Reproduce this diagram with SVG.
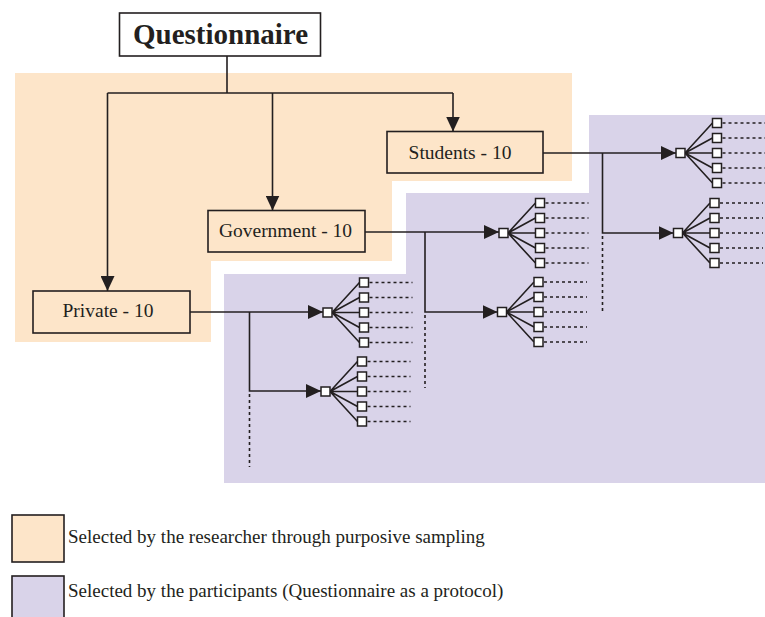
<svg xmlns="http://www.w3.org/2000/svg" xmlns:xlink="http://www.w3.org/1999/xlink" width="765" height="617" viewBox="0 0 765 617">
<style>
.ln{fill:none;stroke:#231f20;stroke-width:1.6}
.dot{fill:none;stroke:#231f20;stroke-width:1.6;stroke-dasharray:3 3}
.box{fill:#fde5c9;stroke:#231f20;stroke-width:1.6}
.sq{fill:#ffffff;stroke:#231f20;stroke-width:1.5}
.t{font-family:"Liberation Serif","Times New Roman",serif;fill:#231f20}
.lbl{font-size:19.5px;text-anchor:middle}
.leg{font-size:19px}
</style>
<defs>
<marker id="ah" markerUnits="userSpaceOnUse" markerWidth="15" markerHeight="14" refX="15" refY="7" orient="auto">
<path d="M0,0 L15,7 L0,14 z" fill="#231f20"/>
</marker>
<g id="fan">
<path class="ln" d="M4.5,0 L32,-30 M4.5,0 L32,-15 M4.5,0 L32,0 M4.5,0 L32,15 M4.5,0 L32,30"/>
<rect class="sq" x="-4.5" y="-4.5" width="9" height="9"/>
<rect class="sq" x="32" y="-34.5" width="9" height="9"/>
<rect class="sq" x="32" y="-19.5" width="9" height="9"/>
<rect class="sq" x="32" y="-4.5" width="9" height="9"/>
<rect class="sq" x="32" y="10.5" width="9" height="9"/>
<rect class="sq" x="32" y="25.5" width="9" height="9"/>
<path class="dot" d="M42,-30 H85 M42,-15 H85 M42,0 H85 M42,15 H85 M42,30 H85"/>
</g>
</defs>
<rect width="765" height="617" fill="#ffffff"/>
<g id="regions">
<polygon points="15,73 572,73 572,181 392,181 392,261 211,261 211,342 15,342" fill="#fde5c9"/>
<polygon points="224,274 406,274 406,193 589,193 589,115 765,115 765,483 224,483" fill="#d9d3e9"/>
</g>
<g id="connectors">
<path class="ln" d="M227,56 V93 M107.5,93 H453"/>
<path class="ln" d="M107.5,93 V291" marker-end="url(#ah)"/>
<path class="ln" d="M272.5,93 V210.5" marker-end="url(#ah)"/>
<path class="ln" d="M453,93 V131.5" marker-end="url(#ah)"/>
<path class="ln" d="M543,153 H676" marker-end="url(#ah)"/>
<path class="ln" d="M602.5,153 V233 H673.5" marker-end="url(#ah)"/>
<path class="dot" d="M602.5,236 V311"/>
<path class="ln" d="M365,232 H499" marker-end="url(#ah)"/>
<path class="ln" d="M425,232 V312 H497.5" marker-end="url(#ah)"/>
<path class="dot" d="M425,315 V388"/>
<path class="ln" d="M190,312 H323" marker-end="url(#ah)"/>
<path class="ln" d="M249.5,312 V391 H321" marker-end="url(#ah)"/>
<path class="dot" d="M249.5,394 V467"/>
</g>
<g id="questionnaire">
<rect x="119.5" y="13" width="201" height="43" fill="#ffffff" stroke="#231f20" stroke-width="1.6"/>
<text class="t" x="220.5" y="44" font-size="29" font-weight="bold" text-anchor="middle">Questionnaire</text>
</g>
<g id="students">
<rect class="box" x="387" y="131.5" width="156" height="41.5"/>
<text class="t lbl" x="460" y="158.5">Students - 10</text>
</g>
<g id="government">
<rect class="box" x="208" y="210.5" width="157" height="41.5"/>
<text class="t lbl" x="285.5" y="237">Government - 10</text>
</g>
<g id="private">
<rect class="box" x="33" y="291" width="157" height="42"/>
<text class="t lbl" x="108" y="317">Private - 10</text>
</g>
<g id="fan-students-1"><use xlink:href="#fan" x="680.5" y="153"/></g>
<g id="fan-students-2"><use xlink:href="#fan" x="678" y="233"/></g>
<g id="fan-government-1"><use xlink:href="#fan" x="503.5" y="233"/></g>
<g id="fan-government-2"><use xlink:href="#fan" x="502" y="312"/></g>
<g id="fan-private-1"><use xlink:href="#fan" x="327.5" y="312.5"/></g>
<g id="fan-private-2"><use xlink:href="#fan" x="325.5" y="391.5"/></g>
<g id="legend">
<rect x="12" y="515" width="52" height="47" fill="#fde5c9" stroke="#231f20" stroke-width="1.6"/>
<text class="t leg" x="68" y="543">Selected by the researcher through purposive sampling</text>
<rect x="12" y="576" width="52" height="48" fill="#d9d3e9" stroke="#231f20" stroke-width="1.6"/>
<text class="t leg" x="68" y="597">Selected by the participants (Questionnaire as a protocol)</text>
</g>
</svg>
